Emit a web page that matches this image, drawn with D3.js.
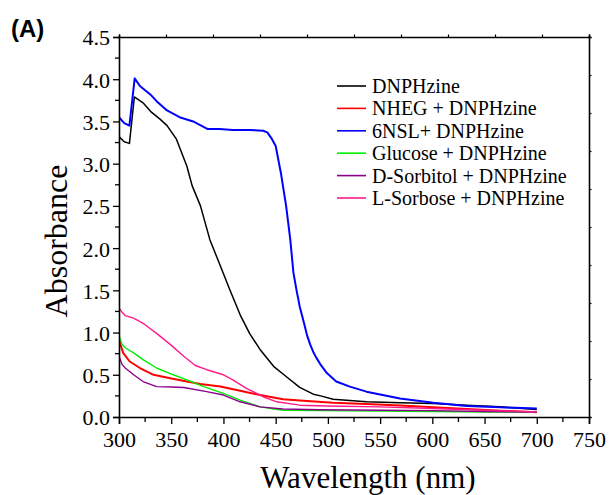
<!DOCTYPE html>
<html>
<head>
<meta charset="utf-8">
<script src="https://cdn.jsdelivr.net/npm/d3@7"></script>
<style>
  html, body { margin: 0; padding: 0; background: #fff; }
  svg { display: block; }
</style>
</head>
<body>
<svg id="chart" width="612" height="495"></svg>
<script>
// UV-Vis absorbance spectra of DNPHzine alone and with various additives.

const xTicks = [300, 350, 400, 450, 500, 550, 600, 650, 700, 750];
const yTicks = [0.0, 0.5, 1.0, 1.5, 2.0, 2.5, 3.0, 3.5, 4.0, 4.5];

const seriesNames = [
  "DNPHzine",
  "NHEG + DNPHzine",
  "6NSL+ DNPHzine",
  "Glucose + DNPHzine",
  "D-Sorbitol + DNPHzine",
  "L-Sorbose + DNPHzine"
];

// DNPHzine
const dnphWl  = [300, 305, 310, 314.7, 323, 331, 339, 346, 355, 365, 370, 378, 387, 397, 406, 416, 425, 435, 448, 460, 473, 486, 493, 505, 537, 569, 601, 633, 665, 700];
const dnphAbs = [3.32, 3.26, 3.24, 3.79, 3.72, 3.61, 3.53, 3.45, 3.29, 2.97, 2.74, 2.50, 2.10, 1.79, 1.51, 1.21, 0.99, 0.80, 0.60, 0.48, 0.35, 0.27, 0.25, 0.21, 0.18, 0.17, 0.16, 0.14, 0.12, 0.09];

// NHEG + DNPHzine
const nhegWl  = [300, 304, 310, 320, 333, 349, 365, 378, 397, 416, 435, 457, 480, 505, 537, 569, 601, 633, 665, 700];
const nhegAbs = [0.91, 0.76, 0.66, 0.58, 0.50, 0.46, 0.42, 0.39, 0.36, 0.31, 0.26, 0.21, 0.19, 0.17, 0.155, 0.135, 0.115, 0.095, 0.075, 0.055];

// 6NSL + DNPHzine
const nslWl  = [300, 305, 310, 315, 320, 325, 330, 336, 346, 358, 371, 385, 396, 409, 425, 438, 442, 446, 450, 455, 460, 464, 467, 470, 473, 477, 480, 483, 486, 489, 492.5, 496, 499, 508, 521, 537, 569, 601, 633, 665, 700];
const nslAbs = [3.55, 3.48, 3.45, 4.01, 3.92, 3.87, 3.82, 3.74, 3.63, 3.55, 3.50, 3.41, 3.41, 3.40, 3.40, 3.39, 3.37, 3.30, 3.21, 2.89, 2.50, 2.10, 1.71, 1.50, 1.31, 1.12, 0.97, 0.86, 0.77, 0.70, 0.63, 0.57, 0.52, 0.42, 0.36, 0.30, 0.22, 0.17, 0.13, 0.115, 0.10];

// Glucose + DNPHzine
const gluWl  = [300, 303, 306, 314, 323, 336, 352, 365, 381, 400, 416, 435, 457, 492, 550, 600, 650, 700];
const gluAbs = [0.96, 0.86, 0.82, 0.76, 0.68, 0.58, 0.50, 0.44, 0.36, 0.28, 0.20, 0.12, 0.08, 0.075, 0.07, 0.065, 0.06, 0.055];

// D-Sorbitol + DNPHzine
const sorbWl  = [300, 303, 306, 314, 323, 336, 350, 362, 384, 400, 416, 435, 457, 492, 550, 600, 650, 700];
const sorbAbs = [0.72, 0.62, 0.58, 0.50, 0.42, 0.36, 0.355, 0.35, 0.30, 0.26, 0.18, 0.12, 0.095, 0.085, 0.08, 0.075, 0.065, 0.06];

// L-Sorbose + DNPHzine
const lsorWl  = [300, 303, 306, 314, 323, 336, 349, 362, 373, 384, 400, 409, 422, 438, 451, 473, 500, 550, 600, 650, 700];
const lsorAbs = [1.29, 1.24, 1.20, 1.17, 1.11, 0.99, 0.86, 0.72, 0.61, 0.56, 0.50, 0.44, 0.34, 0.24, 0.18, 0.14, 0.13, 0.12, 0.10, 0.08, 0.06];

const seriesColors = ["#000000", "#ff0000", "#0000ff", "#00ee00", "#8b008b", "#ff1a8c"];
const seriesWidths = [1.5, 2, 2, 1.4, 1.4, 1.4];

const series = [
  { wl: dnphWl, abs: dnphAbs },
  { wl: nhegWl, abs: nhegAbs },
  { wl: nslWl,  abs: nslAbs },
  { wl: gluWl,  abs: gluAbs },
  { wl: sorbWl, abs: sorbAbs },
  { wl: lsorWl, abs: lsorAbs }
];

const serif = "'Liberation Serif', 'Times New Roman', Times, serif";

const svg = d3.select("#chart");
svg.append("rect").attr("width", 612).attr("height", 495).attr("fill", "#fff");

const plotLeft = 119, plotRight = 589, plotTop = 37, plotBottom = 417;

const x = d3.scaleLinear().domain([300, 750]).range([plotLeft, plotRight]);
const y = d3.scaleLinear().domain([0, 4.5]).range([plotBottom, plotTop]);

// clip curves to the frame
svg.append("clipPath").attr("id", "plotClip")
  .append("rect").attr("x", plotLeft).attr("y", plotTop)
  .attr("width", plotRight - plotLeft).attr("height", plotBottom - plotTop);

const line = d3.line()
  .x(d => x(d[0]))
  .y(d => y(d[1]));

const curves = svg.append("g").attr("clip-path", "url(#plotClip)");
series.forEach((s, i) => {
  const pts = s.wl.map((w, k) => [w, s.abs[k]]);
  curves.append("path")
    .datum(pts)
    .attr("d", line)
    .attr("fill", "none")
    .attr("stroke", seriesColors[i])
    .attr("stroke-width", seriesWidths[i])
    .attr("stroke-linejoin", "round");
});

// bottom axis: labelled majors every 50 nm, minors every 25 nm
const xMinor = d3.range(325, 750, 50);
const gx = svg.append("g").attr("transform", `translate(0,${plotBottom})`);
gx.call(d3.axisBottom(x).tickValues(xTicks).tickSize(7).tickPadding(6).tickFormat(d3.format("d")));
gx.append("g").selectAll("line").data(xMinor).join("line")
  .attr("x1", d => x(d)).attr("x2", d => x(d))
  .attr("y1", 0).attr("y2", 5)
  .attr("stroke", "#000").attr("stroke-width", 1.3);

// left axis: labelled majors every 0.5, minors every 0.25
const yMinor = d3.range(0.25, 4.5, 0.5);
const gy = svg.append("g").attr("transform", `translate(${plotLeft},0)`);
gy.call(d3.axisLeft(y).tickValues(yTicks).tickSize(6).tickPadding(3).tickFormat(d3.format(".1f")));
gy.append("g").selectAll("line").data(yMinor).join("line")
  .attr("x1", 0).attr("x2", -4)
  .attr("y1", d => y(d)).attr("y2", d => y(d))
  .attr("stroke", "#000").attr("stroke-width", 1.3);

[gx, gy].forEach(g => {
  g.attr("font-family", serif).attr("font-size", 22);
  g.select(".domain").attr("stroke", "#000").attr("stroke-width", 1.6);
  g.selectAll(".tick line").attr("stroke", "#000").attr("stroke-width", 1.3);
  g.selectAll(".tick text")
    .attr("fill", "#000")
    .style("font-family", serif)
    .style("font-size", "22px");
});
gx.selectAll(".tick text").attr("dy", "0.78em");
gy.selectAll(".tick text").attr("dy", "0.36em");

// top and right frame with small outward ticks in ten equal divisions
const div = d3.scaleLinear().domain([0, 10]);
const gTop = svg.append("g").attr("transform", `translate(0,${plotTop})`);
gTop.call(d3.axisTop(div.copy().range([plotLeft, plotRight])).ticks(10).tickSize(2.5).tickFormat(""));
const gRight = svg.append("g").attr("transform", `translate(${plotRight},0)`);
gRight.call(d3.axisRight(div.copy().range([plotBottom, plotTop])).ticks(10).tickSize(2.5).tickFormat(""));
[gTop, gRight].forEach(g => {
  g.select(".domain").attr("stroke", "#000").attr("stroke-width", 1.6);
  g.selectAll(".tick line").attr("stroke", "#000").attr("stroke-width", 1.2);
});

// axis titles
svg.append("text")
  .attr("x", 368).attr("y", 488)
  .attr("text-anchor", "middle")
  .style("font-family", serif).style("font-size", "31px")
  .text("Wavelength (nm)");

svg.append("text")
  .attr("transform", `translate(67,241) rotate(-90)`)
  .attr("text-anchor", "middle")
  .style("font-family", serif).style("font-size", "32px")
  .text("Absorbance");

// panel label
svg.append("text")
  .attr("x", 11).attr("y", 37)
  .style("font-family", "'Liberation Sans', Arial, sans-serif")
  .style("font-size", "24px").style("font-weight", "bold")
  .text("(A)");

// legend
const legend = svg.append("g").attr("transform", "translate(337,86)");
seriesNames.forEach((name, i) => {
  const row = legend.append("g").attr("transform", `translate(0,${i * 22.4})`);
  row.append("line")
    .attr("x1", 0).attr("x2", 29).attr("y1", 0).attr("y2", 0)
    .attr("stroke", seriesColors[i]).attr("stroke-width", 1.6);
  row.append("text")
    .attr("x", 35).attr("y", 0).attr("dy", "0.35em")
    .style("font-family", serif).style("font-size", "20px")
    .text(name);
});
</script>
</body>
</html>
